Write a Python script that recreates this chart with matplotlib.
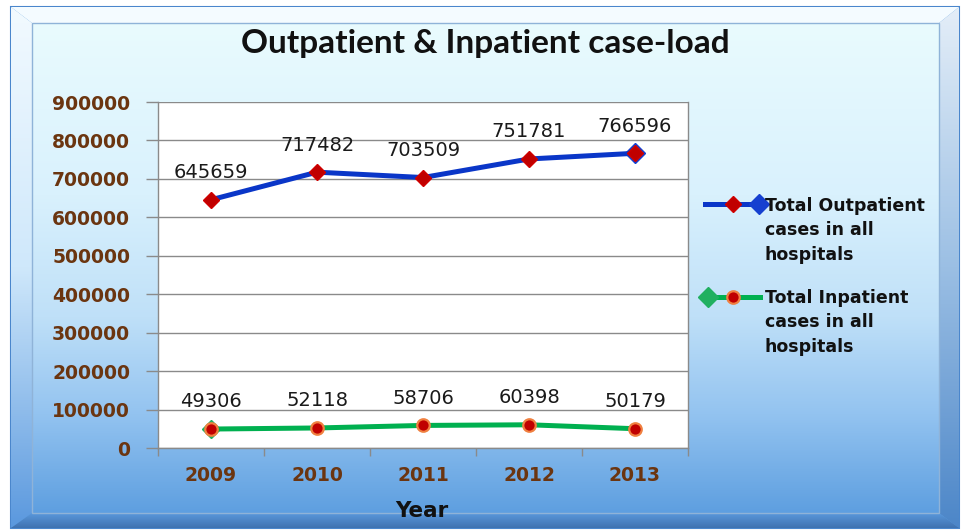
import numpy as np
import matplotlib
matplotlib.use("Agg")
import matplotlib.pyplot as plt
from matplotlib.lines import Line2D
from matplotlib.patches import Rectangle, Polygon
from matplotlib.colors import LinearSegmentedColormap

years = ["2009", "2010", "2011", "2012", "2013"]
outpatient = [645659, 717482, 703509, 751781, 766596]
inpatient = [49306, 52118, 58706, 60398, 50179]
title = "Outpatient & Inpatient case-load"
xlabel = "Year"
out_label = "Total Outpatient\ncases in all\nhospitals"
in_label = "Total Inpatient\ncases in all\nhospitals"
yticks = [0, 100000, 200000, 300000, 400000, 500000, 600000, 700000, 800000, 900000]

W, H = 962, 531
fig = plt.figure(figsize=(W / 100, H / 100), dpi=100)
fig.patch.set_facecolor("white")

def fx(px):
    return px / W

def fy(py):
    return 1 - py / H

# background frame axes (pixel coords)
bg = fig.add_axes([0, 0, 1, 1])
bg.set_xlim(0, W)
bg.set_ylim(H, 0)
bg.axis("off")

ox0, oy0, ox1, oy1 = 11, 7, 959, 528
ix0, iy0, ix1, iy1 = 32, 23, 939, 513
grad = np.linspace(0, 1, 256).reshape(-1, 1)

bg.add_patch(Rectangle((ox0, oy0), ox1 - ox0, oy1 - oy0, facecolor="#5e9fe0",
                       edgecolor="#4a86cc", lw=1.5, zorder=0))
# top bevel
bg.add_patch(Polygon([(ox0, oy0), (ox1, oy0), (ix1, iy0), (ix0, iy0)],
                     facecolor="#f4fbff", edgecolor="none", zorder=1))
# left bevel gradient
lcmap = LinearSegmentedColormap.from_list("l", [(0, "#f2faff"), (0.5, "#cfe8fb"), (1, "#5a98de")])
pl = Polygon([(ox0, oy0), (ix0, iy0), (ix0, iy1), (ox0, oy1)], facecolor="none",
             edgecolor="none")
bg.add_patch(pl)
im = bg.imshow(grad, cmap=lcmap, aspect="auto", extent=(ox0, ix0, oy1, oy0), zorder=1)
im.set_clip_path(pl)
# right bevel gradient
rcmap = LinearSegmentedColormap.from_list("r", [(0, "#e4eef8"), (0.5, "#9bbfe4"), (1, "#4c86c8")])
pr = Polygon([(ox1, oy0), (ox1, oy1), (ix1, iy1), (ix1, iy0)], facecolor="none",
             edgecolor="none")
bg.add_patch(pr)
im2 = bg.imshow(grad, cmap=rcmap, aspect="auto", extent=(ix1, ox1, oy1, oy0), zorder=1)
im2.set_clip_path(pr)
# bottom bevel
bcmap = LinearSegmentedColormap.from_list("b", ["#5a98dc", "#3f72b0"])
pb = Polygon([(ox0, oy1), (ox1, oy1), (ix1, iy1), (ix0, iy1)], facecolor="none",
             edgecolor="none")
bg.add_patch(pb)
im3 = bg.imshow(grad, cmap=bcmap, aspect="auto", extent=(ox0, ox1, oy1, iy1), zorder=1)
im3.set_clip_path(pb)

# inner gradient panel
cmap = LinearSegmentedColormap.from_list(
    "panel", [(0.0, "#e9fbfe"), (0.35, "#d9f1fd"), (0.6, "#bfe0f8"),
              (0.8, "#93c3f0"), (1.0, "#5e9fe0")])
bg.imshow(grad, cmap=cmap, aspect="auto", extent=(ix0, ix1, iy1, iy0), zorder=2)
bg.add_patch(Rectangle((ix0, iy0), ix1 - ix0, iy1 - iy0, facecolor="none",
                       edgecolor="#8fb3d8", lw=1.0, zorder=3))

# plot axes
ax = fig.add_axes([fx(158), fy(448), fx(688) - fx(158), fy(102) - fy(448)])
ax.set_facecolor("white")
x = np.arange(len(years))
ax.set_xlim(-0.5, len(years) - 0.5)
ax.set_ylim(0, 900000)

ax.set_yticks(yticks)
ax.set_yticklabels([str(v) for v in yticks])
ax.yaxis.grid(True, color="#8a8a8a", lw=1.0)
ax.set_axisbelow(True)
ax.tick_params(axis="y", length=9, color="#8a8a8a", width=1, pad=11,
               labelsize=13.5, labelcolor="#6b3510")
for t in ax.get_yticklabels():
    t.set_fontweight("bold")

ax.set_xticks(np.arange(-0.5, len(years), 1.0))
ax.set_xticklabels([])
ax.tick_params(axis="x", which="major", length=6, color="#8a8a8a", width=1)
ax.set_xticks(x, minor=True)
ax.set_xticklabels(years, minor=True)
ax.tick_params(axis="x", which="minor", length=0, pad=13, labelsize=13.5,
               labelcolor="#6b3510")
for t in ax.get_xticklabels(minor=True):
    t.set_fontweight("bold")

for s in ["left", "bottom", "right", "top"]:
    ax.spines[s].set_color("#8a8a8a")
    ax.spines[s].set_linewidth(1.0)
ax.spines["top"].set_visible(False)

# outpatient series
ax.plot(x[-1:], outpatient[-1:], marker="D", ms=10, color="#1540d0", ls="none", zorder=4,
        clip_on=False)
ax.plot(x, outpatient, color="#0a36c8", lw=3.6, marker="D", ms=8.5,
        markerfacecolor="#c00000", markeredgecolor="#d00000", zorder=5, clip_on=False)
# inpatient series
ax.plot(x[:1], inpatient[:1], marker="D", ms=9, color="#20b060", ls="none", zorder=4,
        clip_on=False)
ax.plot(x, inpatient, color="#00b050", lw=3.6, marker="o", ms=9,
        markerfacecolor="#c00000", markeredgecolor="#f08040", markeredgewidth=1.6,
        zorder=5, clip_on=False)

for xi, v in zip(x, outpatient):
    ax.annotate(str(v), (xi, v), xytext=(0, 19.5), textcoords="offset points",
                ha="center", va="center", fontsize=14, color="#1a1a1a")
for xi, v in zip(x, inpatient):
    ax.annotate(str(v), (xi, v), xytext=(0, 19.5), textcoords="offset points",
                ha="center", va="center", fontsize=14, color="#1a1a1a")

# title and axis label
fig.text(fx(485), fy(44), title, ha="center", va="center", fontsize=24,
         fontweight="bold", family="Lato", color="#111111")
fig.text(fx(422), fy(511), xlabel, ha="center", va="center", fontsize=15.5,
         fontweight="bold", color="#111111")

# legend (manual)
lg = fig.add_axes([0, 0, 1, 1], facecolor="none")
lg.set_xlim(0, W)
lg.set_ylim(H, 0)
lg.axis("off")
lg.add_line(Line2D([705, 760], [204, 204], color="#0a36c8", lw=3.6))
lg.add_line(Line2D([759], [204], marker="D", ms=10, color="#1540d0", ls="none"))
lg.add_line(Line2D([733], [204], marker="D", ms=8.5, markerfacecolor="#c00000",
                   markeredgecolor="#d00000", ls="none"))
lg.add_line(Line2D([708, 760], [297, 297], color="#00b050", lw=3.6))
lg.add_line(Line2D([708], [297], marker="D", ms=10, color="#20b060", ls="none"))
lg.add_line(Line2D([733], [297], marker="o", ms=9, markerfacecolor="#c00000",
                   markeredgecolor="#f08040", markeredgewidth=1.6, ls="none"))
lg.text(765, 197, out_label, ha="left", va="top", fontsize=12.5, fontweight="bold",
        color="#111111", linespacing=1.45)
lg.text(765, 289, in_label, ha="left", va="top", fontsize=12.5, fontweight="bold",
        color="#111111", linespacing=1.45)

fig.savefig("out.png", dpi=100, facecolor=fig.get_facecolor())
